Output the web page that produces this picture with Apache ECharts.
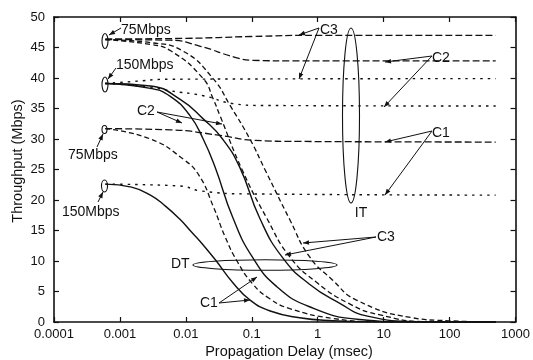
<!DOCTYPE html>
<html><head><meta charset="utf-8">
<script src="https://cdn.jsdelivr.net/npm/echarts@6/dist/echarts.min.js"></script>
<style>html,body{margin:0;padding:0;background:#fff}#c{width:533px;height:360px}</style>
</head><body><div id="c"></div>
<script>
// ---- data (x: propagation delay in msec, y: throughput in Mbps) ----
const xTickLabels = ['0.0001','0.001','0.01','0.1','1','10','100','1000'];
const yTicks = [0,5,10,15,20,25,30,35,40,45,50];

// DT, 150Mbps (solid)
const dt150C1 = [[0.0006,22.6],[0.0015,22.1],[0.0029,20.8],[0.0049,19.0],[0.0082,16.8],[0.0116,15.0],[0.0165,13.2],[0.028,10.2],[0.052,6.4],[0.094,3.6],[0.19,1.8],[0.53,0.7],[1.7,0.2],[6,0.02],[500,0]];
const dt150C2 = [[0.0006,39.1],[0.0029,38.3],[0.0058,37.0],[0.0116,33.8],[0.0183,30.0],[0.0277,25.4],[0.052,17.0],[0.104,10.5],[0.239,5.8],[0.75,2.5],[4.3,0.4],[24,0.02],[500,0]];
const dt150C3 = [[0.0006,39.1],[0.0029,38.7],[0.0082,36.5],[0.0183,33.3],[0.036,30.0],[0.066,25.3],[0.132,17.0],[0.295,10.5],[0.75,6.2],[2.13,3.1],[5.45,1.0],[35,0.05],[500,0]];
// DT, 75Mbps (dashed)
const dt75C1 = [[0.0006,31.7],[0.0029,30.0],[0.0091,26.7],[0.0159,24.0],[0.0259,19.0],[0.0393,14.0],[0.0596,10.0],[0.104,6.2],[0.188,3.8],[0.376,2.2],[1.67,0.6],[8.5,0.05],[500,0]];
const dt75C2 = [[0.0006,46.3],[0.0029,45.5],[0.0058,44.5],[0.0183,39.9],[0.0259,36.6],[0.033,33.8],[0.071,25.0],[0.169,17.0],[0.376,10.7],[0.96,6.5],[3.0,3.0],[8.5,1.2],[48,0.05],[500,0]];
const dt75C3 = [[0.0006,46.3],[0.0029,45.8],[0.0091,44.4],[0.0259,39.9],[0.0468,35.5],[0.0935,30.0],[0.158,25.0],[0.376,16.8],[0.75,10.7],[1.67,6.9],[3.85,3.6],[27,0.7],[97,0.2],[500,0]];
// IT, 150Mbps (dotted)
const it150C1 = [[0.0006,22.6],[0.0082,22.3],[0.0165,21.5],[0.084,21.0],[500,20.8]];
const it150C2 = [[0.0006,39.1],[0.0029,38.5],[0.0058,37.9],[0.0183,37.1],[0.0519,35.8],[0.132,35.5],[500,35.4]];
const it150C3 = [[0.0006,39.1],[0.00145,39.4],[0.0058,39.8],[500,39.9]];
// IT, 75Mbps (dashed)
const it75C1 = [[0.0006,31.7],[0.0058,31.5],[0.033,30.6],[0.104,29.8],[0.53,29.6],[500,29.5]];
const it75C2 = [[0.0006,46.3],[0.0058,46.2],[0.0165,45.2],[0.0556,43.4],[0.104,42.9],[0.53,42.8],[500,42.8]];
const it75C3 = [[0.0006,46.4],[0.01,46.5],[0.1,46.8],[1,47.0],[500,47.0]];

// ---- chart ----
const FONT = "'Liberation Sans', Arial, Helvetica, sans-serif";
const INK = '#111';
const solid = {type:'solid', width:1.4};
const dashDT = {type:[5,3], width:1.3};
const dashIT = {type:[7,3], width:1.3};
const dotted = {type:[2.5,5], width:1.4};

function mk(name, data, style){
  return {name, type:'line', data, smooth:0.5, showSymbol:false, symbol:'none',
    lineStyle:Object.assign({color:INK}, style), silent:true, clip:true};
}

const series = [
  mk('DT 150 C1', dt150C1, solid), mk('DT 150 C2', dt150C2, solid), mk('DT 150 C3', dt150C3, solid),
  mk('DT 75 C1', dt75C1, dashDT), mk('DT 75 C2', dt75C2, dashDT), mk('DT 75 C3', dt75C3, dashDT),
  mk('IT 150 C1', it150C1, dotted), mk('IT 150 C2', it150C2, dotted), mk('IT 150 C3', it150C3, dotted),
  mk('IT 75 C1', it75C1, dashIT), mk('IT 75 C2', it75C2, dashIT), mk('IT 75 C3', it75C3, dashIT)
];

const axisLineStyle = {show:true, onZero:false, lineStyle:{color:INK, width:1.6}};
const tick = {show:true, inside:true, length:5, lineStyle:{color:INK, width:1.2}};
function xLabel(v){ const i = Math.round(Math.log10(v)) + 4; return xTickLabels[i] !== undefined ? xTickLabels[i] : ''; }

const option = {
  animation:false,
  backgroundColor:'#fff',
  grid:{left:54, right:16, top:17, bottom:38},
  xAxis:[
    {type:'log', logBase:10, min:0.0001, max:1000, splitNumber:7, axisLine:axisLineStyle, axisTick:tick,
     splitLine:{show:false}, axisLabel:{formatter:xLabel, color:INK, fontSize:13, fontFamily:FONT, margin:6}},
    {type:'log', logBase:10, min:0.0001, max:1000, splitNumber:7, position:'top', axisLine:axisLineStyle, axisTick:tick,
     splitLine:{show:false}, axisLabel:{show:false}}
  ],
  yAxis:[
    {type:'value', min:yTicks[0], max:yTicks[yTicks.length-1], interval:5, axisLine:axisLineStyle, axisTick:tick,
     splitLine:{show:false}, axisLabel:{color:INK, fontSize:13, fontFamily:FONT, margin:9}},
    {type:'value', min:yTicks[0], max:yTicks[yTicks.length-1], interval:5, position:'right', axisLine:axisLineStyle, axisTick:tick,
     splitLine:{show:false}, axisLabel:{show:false}}
  ],
  series
};

// ---- annotations (pixel positions in the 533x360 canvas) ----
const g = [];
function txt(text, x, y, align){
  g.push({type:'text', x, y, silent:true, style:{text, fill:INK, font:'14px '+FONT, textAlign:align||'left', textVerticalAlign:'middle'}});
}
function arrow(x1,y1,x2,y2){
  g.push({type:'line', silent:true, shape:{x1,y1,x2,y2}, style:{stroke:INK, lineWidth:1}});
  const a = Math.atan2(y2-y1, x2-x1), L = 6, W = 2.3;
  const bx = x2 - L*Math.cos(a), by = y2 - L*Math.sin(a);
  const px = -Math.sin(a)*W, py = Math.cos(a)*W;
  g.push({type:'polygon', silent:true, shape:{points:[[x2,y2],[bx+px,by+py],[bx-px,by-py]]}, style:{fill:INK}});
}
function ell(cx,cy,rx,ry){
  g.push({type:'ellipse', silent:true, shape:{cx,cy,rx,ry}, style:{fill:null, stroke:INK, lineWidth:1.1}});
}
// rate markers at the curve starts
ell(105,41,3,7.5); ell(105,84.5,3,7.5); ell(104.5,129.5,2.5,4); ell(104.5,186,3,6);
txt('75Mbps',121,30); arrow(121,28,109,35);
txt('150Mbps',116,65); arrow(116,68,108,79);
txt('75Mbps',68,155); arrow(97,147,103,134);
txt('150Mbps',62,212); arrow(98,202,103,192);
// IT group
ell(351,115.5,8.5,87.5); txt('IT',361,213,'center');
txt('C3',320,30); arrow(319,28,299,35); arrow(319,28,299,79);
txt('C2',432,58); arrow(432,56,385,62); arrow(432,56,384,107);
txt('C1',432,133); arrow(432,131,385,142); arrow(432,131,385,195);
// DT group
txt('C2',137,111); arrow(157,112,182,123); arrow(157,112,222,124);
txt('C3',377,237); arrow(376,237,303,243); arrow(376,237,285,255);
ell(265,265,72,5.2); txt('DT',171,264);
txt('C1',200,303); arrow(219,303,250,300); arrow(219,303,257,277);
// axis titles
g.push({type:'text', x:289, y:352, silent:true, style:{text:'Propagation Delay (msec)', fill:INK, font:'14.5px '+FONT, textAlign:'center', textVerticalAlign:'middle'}});
g.push({type:'text', x:18, y:161, rotation:Math.PI/2, silent:true, style:{text:'Throughput (Mbps)', fill:INK, font:'14.5px '+FONT, textAlign:'center', textVerticalAlign:'middle'}});
option.graphic = g;

const chart = echarts.init(document.getElementById('c'), null, {renderer:'canvas'});
chart.setOption(option);
</script>
</body></html>
